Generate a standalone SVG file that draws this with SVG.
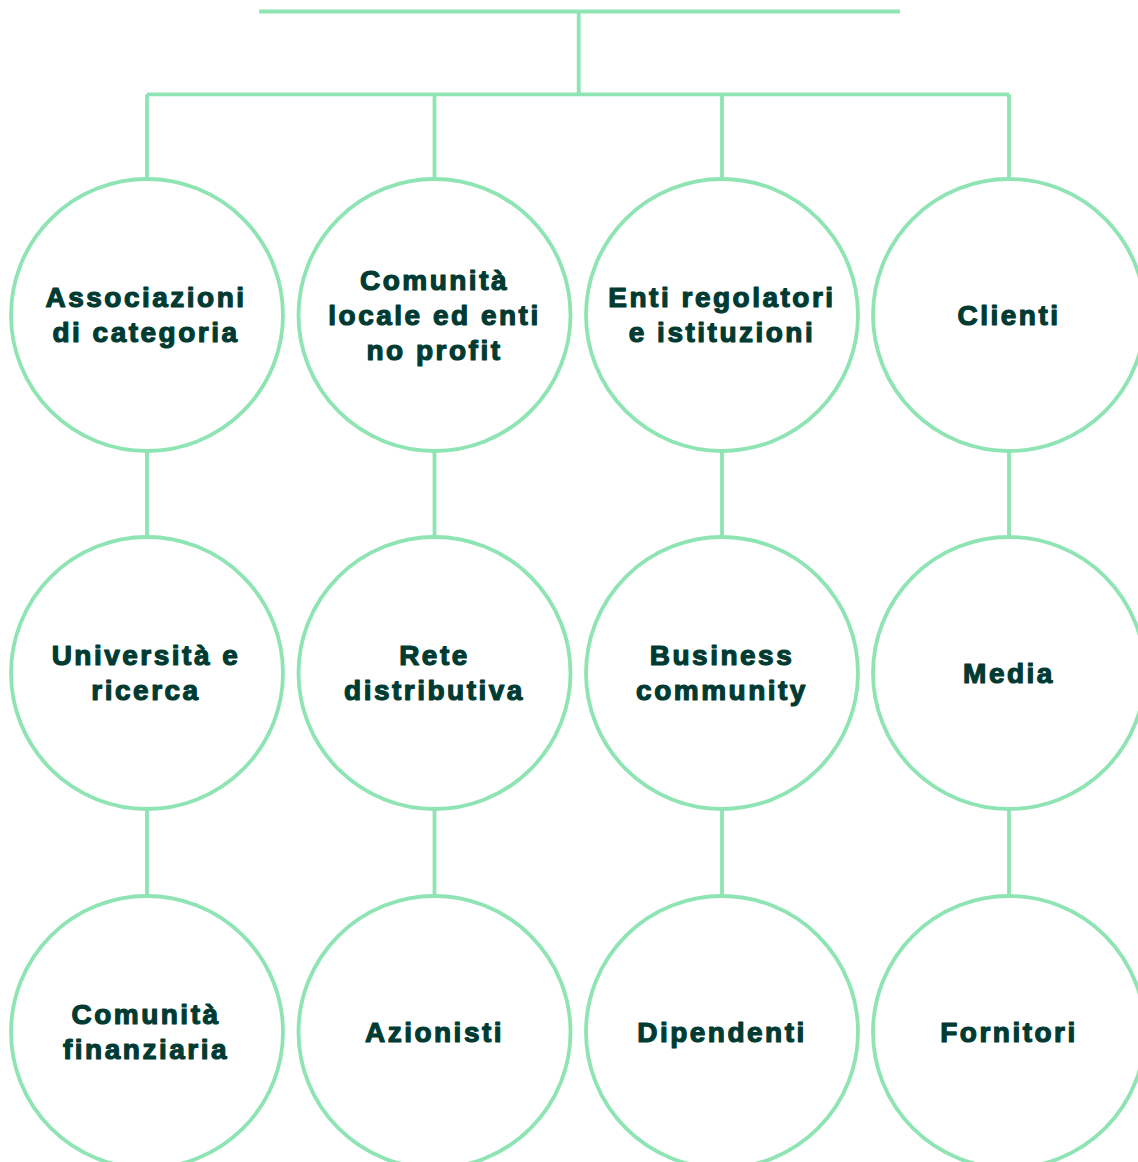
<svg xmlns="http://www.w3.org/2000/svg" width="1138" height="1162" viewBox="0 0 1138 1162">
<style>
.c{fill:#ffffff;stroke:#8fe4b4;stroke-width:3.8}
.l{fill:none;stroke:#8fe4b4;stroke-width:3.8}
text{font-family:"Liberation Sans",Arial,sans-serif;font-weight:bold;font-size:28px;fill:#003b33;stroke:#003b33;stroke-width:1.2;stroke-linejoin:round;text-anchor:middle;letter-spacing:2.5px}
</style>
<rect width="1138" height="1162" fill="#ffffff"/>
<g id="connectors">
<path class="l" d="M259 11.5H900M578.7 11.5V94.3M147 94.3H1009M147 94.3V179M434.5 94.3V179M722 94.3V179M1009 94.3V179"/>
<path class="l" d="M147 451V537M434.5 451V537M722 451V537M1009 451V537M147 809V896M434.5 809V896M722 809V896M1009 809V896"/>
</g>
<g id="n1"><circle class="c" cx="147" cy="315" r="136"/><text x="146" y="307">Associazioni</text><text x="146" y="342">di categoria</text></g>
<g id="n2"><circle class="c" cx="434.5" cy="315" r="136"/><text x="434.5" y="290">Comunità</text><text x="434.5" y="325">locale ed enti</text><text x="434.5" y="360">no profit</text></g>
<g id="n3"><circle class="c" cx="722" cy="315" r="136"/><text x="722" y="307">Enti regolatori</text><text x="722" y="342">e istituzioni</text></g>
<g id="n4"><circle class="c" cx="1009" cy="315" r="136"/><text x="1009" y="325">Clienti</text></g>
<g id="n5"><circle class="c" cx="147" cy="673" r="136"/><text x="146" y="665">Università e</text><text x="146" y="700">ricerca</text></g>
<g id="n6"><circle class="c" cx="434.5" cy="673" r="136"/><text x="434.5" y="665">Rete</text><text x="434.5" y="700">distributiva</text></g>
<g id="n7"><circle class="c" cx="722" cy="673" r="136"/><text x="722" y="665">Business</text><text x="722" y="700">community</text></g>
<g id="n8"><circle class="c" cx="1009" cy="673" r="136"/><text x="1009" y="683">Media</text></g>
<g id="n9"><circle class="c" cx="147" cy="1032" r="136"/><text x="146" y="1024">Comunità</text><text x="146" y="1059">finanziaria</text></g>
<g id="n10"><circle class="c" cx="434.5" cy="1032" r="136"/><text x="434.5" y="1042">Azionisti</text></g>
<g id="n11"><circle class="c" cx="722" cy="1032" r="136"/><text x="722" y="1042">Dipendenti</text></g>
<g id="n12"><circle class="c" cx="1009" cy="1032" r="136"/><text x="1009" y="1042">Fornitori</text></g>
</svg>
